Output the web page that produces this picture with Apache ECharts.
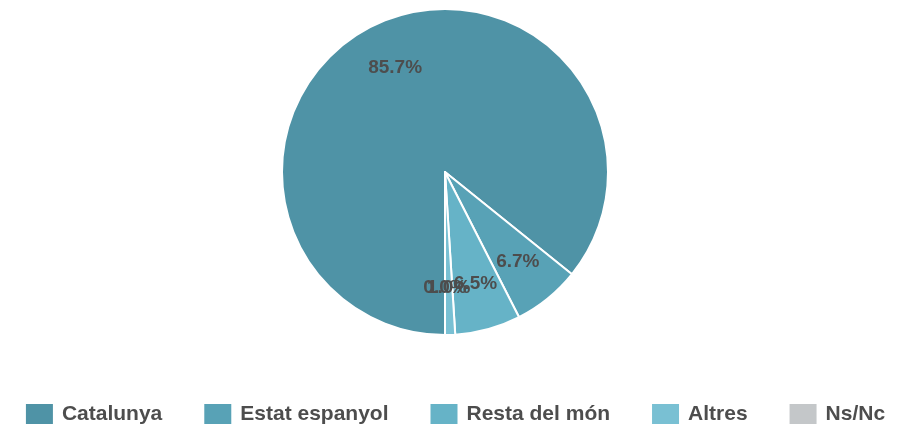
<!DOCTYPE html>
<html>
<head>
<meta charset="utf-8">
<script src="https://cdn.jsdelivr.net/npm/echarts@6/dist/echarts.min.js"></script>
<style>
  html, body { margin: 0; padding: 0; background: #fff; }
  #chart { width: 909px; height: 428px; }
</style>
</head>
<body>
<div id="chart"></div>
<script>
// origen dels visitants (%)
const categories = ['Catalunya', 'Estat espanyol', 'Resta del món', 'Altres', 'Ns/Nc']
const values = [85.7, 6.7, 6.5, 1.0, 0.0]
const colors = ['#4f93a6', '#58a2b6', '#66b3c7', '#79c0d3', '#c4c7c9']

const pieData = categories.map((name, i) => ({ name: name, value: values[i] }))

const chart = echarts.init(document.getElementById('chart'))
chart.setOption({
  color: colors,
  animation: false,
  legend: {
    data: categories,
    left: 'center',
    top: 397,
    itemWidth: 29,
    itemHeight: 22,
    itemGap: 40,
    icon: 'rect',
    textStyle: {
      fontFamily: 'Liberation Sans, Arial, sans-serif',
      fontWeight: 'bold',
      fontSize: 21,
      color: '#4d4d4d',
      padding: [0, 0, 0, 3]
    }
  },
  series: [
    {
      // sectors
      type: 'pie',
      center: [445, 172],
      radius: [0, 163],
      startAngle: 270,
      clockwise: true,
      silent: true,
      itemStyle: { borderColor: '#fff', borderWidth: 2 },
      label: { show: false },
      labelLine: { show: false },
      data: pieData
    },
    {
      // percent labels, placed further out than the default inside position
      type: 'pie',
      center: [445, 172],
      radius: [62, 163],
      startAngle: 270,
      clockwise: true,
      silent: true,
      avoidLabelOverlap: false,
      minShowLabelAngle: 0,
      itemStyle: { color: 'rgba(0,0,0,0)', borderWidth: 0 },
      label: {
        show: true,
        position: 'inside',
        fontFamily: 'Liberation Sans, Arial, sans-serif',
        fontWeight: 'bold',
        fontSize: 19,
        color: '#4d4d4d',
        formatter: p => p.value.toFixed(1) + '%'
      },
      labelLayout: { hideOverlap: false },
      labelLine: { show: false },
      data: pieData
    }
  ]
})
</script>
</body>
</html>
